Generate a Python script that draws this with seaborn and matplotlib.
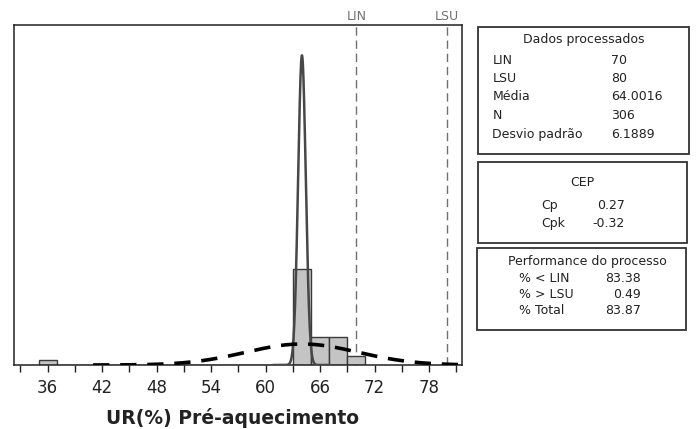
import numpy as np
import pandas as pd
import matplotlib
matplotlib.use("Agg")
import matplotlib.pyplot as plt
from matplotlib.ticker import MultipleLocator, FixedLocator
from matplotlib.patches import Rectangle
import seaborn as sns

# ---------------- data ----------------
bin_centers = [36, 64, 66, 68, 70]
bin_counts = [10, 180, 53, 53, 17]
bin_width = 2
lin, lsu = 70, 80
mean_val = 64.0016
n_obs = 306
sd_overall = 6.1889
sd_within = 0.42
tick_labels = [36, 42, 48, 54, 60, 66, 72, 78]

stats_dados = [("LIN", "70"), ("LSU", "80"), ("Média", "64.0016"),
               ("N", "306"), ("Desvio padrão", "6.1889")]
stats_cep = [("Cp", "0.27"), ("Cpk", "-0.32")]
stats_perf = [("% < LIN", "83.38"), ("% > LSU", "0.49"), ("% Total", "83.87")]

# ---------------- figure ----------------
sns.set_theme(style="white")
plt.rcParams["font.family"] = ["DejaVu Sans"]

W, H = 698, 429
fig = plt.figure(figsize=(W / 100, H / 100), dpi=100)
fig.patch.set_facecolor("white")


def fx(px):
    return px / W


def fy(py):
    return 1 - py / H


ax_l, ax_r, ax_t, ax_b = 14, 462, 25, 365
ax = fig.add_axes([fx(ax_l), fy(ax_b), fx(ax_r - ax_l), (ax_b - ax_t) / H])

df = pd.DataFrame({"x": bin_centers, "w": bin_counts})
edges = [float(e) for e in range(35, 73, bin_width)]
sns.histplot(data=df, x="x", weights="w", bins=edges, stat="count",
             color="#c4c4c4", edgecolor="#3a3a3a", linewidth=1.0,
             alpha=1.0, ax=ax, zorder=2)


def npdf(x, m, s):
    return np.exp(-0.5 * ((x - m) / s) ** 2) / (s * np.sqrt(2 * np.pi))


scale = n_obs * bin_width
xw = np.linspace(60.8, 67.2, 600)
ax.plot(xw, scale * npdf(xw, mean_val, sd_within), color="#474747",
        lw=1.8, zorder=3)

xo = np.linspace(41.0, 81.6, 500)
ax.plot(xo, scale * npdf(xo, mean_val, sd_overall), color="black",
        lw=2.6, dashes=(4.5, 3.0), zorder=4)

for v in (lin, lsu):
    ax.axvline(v, color="#707070", lw=1.0, dashes=(6, 3.5), zorder=1,
               clip_on=False)

ax.text(lin, 1.005, "LIN", transform=ax.get_xaxis_transform(),
        ha="center", va="bottom", fontsize=9, color="#707070")
ax.text(lsu, 1.005, "LSU", transform=ax.get_xaxis_transform(),
        ha="center", va="bottom", fontsize=9, color="#707070")

# axes limits
px_per_unit = 9.08
x0 = 36 - (47.7 - ax_l) / px_per_unit
x1 = 36 + (ax_r - 47.7) / px_per_unit
ax.set_xlim(x0, x1)
px_per_count = 326 / scale
ax.set_ylim(0, (ax_b - ax_t) / px_per_count)

ax.xaxis.set_major_locator(FixedLocator(tick_labels))
ax.set_xticklabels([str(t) for t in tick_labels])
ax.xaxis.set_minor_locator(MultipleLocator(3))
ax.tick_params(axis="x", which="both", direction="out", length=5, width=1,
               color="#222222", labelsize=12, pad=5, labelcolor="#222222",
               bottom=True)
ax.set_yticks([])
ax.set_ylabel("")
ax.set_xlabel("UR(%) Pré-aquecimento", fontsize=13.5, fontweight="bold",
              color="#222222")
ax.xaxis.set_label_coords((233 - ax_l) / (ax_r - ax_l), -(418 - ax_b) / (ax_b - ax_t))
ax.xaxis.label.set_va("center")
for s in ax.spines.values():
    s.set_color("#222222")
    s.set_linewidth(1.1)

# ---------------- side boxes ----------------
def box(l, t, r, b):
    fig.patches.append(Rectangle((fx(l), fy(b)), fx(r - l), (b - t) / H,
                                 transform=fig.transFigure, fill=False,
                                 edgecolor="#333333", lw=1.3))


tc = "#222222"
fs = 9

box(478, 27, 689, 154)
fig.text(fx(583.5), fy(39), "Dados processados", ha="center", va="center",
         fontsize=fs, color=tc)
ys = [60, 78.5, 97, 115.5, 134]
for (lab, val), yy in zip(stats_dados, ys):
    fig.text(fx(492.5), fy(yy), lab, ha="left", va="center", fontsize=fs, color=tc)
    fig.text(fx(611.5), fy(yy), val, ha="left", va="center", fontsize=fs, color=tc)

box(478, 162, 687, 243)
fig.text(fx(582), fy(183), "CEP", ha="center", va="center", fontsize=fs, color=tc)
for (lab, val), yy in zip(stats_cep, [206, 223]):
    fig.text(fx(541.5), fy(yy), lab, ha="left", va="center", fontsize=fs, color=tc)
    fig.text(fx(625), fy(yy), val, ha="right", va="center", fontsize=fs, color=tc)

box(477, 248, 686, 330)
fig.text(fx(587), fy(261), "Performance do processo", ha="center", va="center",
         fontsize=fs, color=tc)
for (lab, val), yy in zip(stats_perf, [279, 295, 311]):
    fig.text(fx(519), fy(yy), lab, ha="left", va="center", fontsize=fs, color=tc)
    fig.text(fx(641), fy(yy), val, ha="right", va="center", fontsize=fs, color=tc)

fig.savefig("out.png", dpi=100, facecolor="white")
